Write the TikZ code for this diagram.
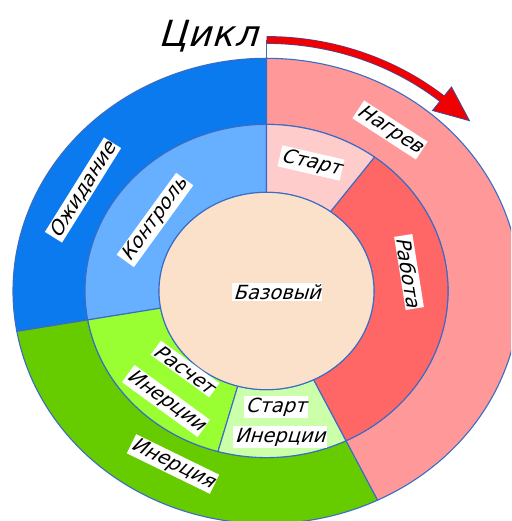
\documentclass[tikz,border=0pt]{standalone}
\usepackage{fontspec}
\newfontfamily\gost[FakeSlant=0.3]{DejaVu Sans}
\newfontfamily\gostbig[FakeSlant=0.3,LetterSpace=2]{DejaVu Sans}
\usetikzlibrary{arrows.meta,calc}
\definecolor{edge}{HTML}{3A6CC6}
\definecolor{arrowedge}{HTML}{3A4FA0}
\definecolor{cblue}{HTML}{0A7AEE}
\definecolor{clblue}{HTML}{66B0FF}
\definecolor{cgreen}{HTML}{66CC00}
\definecolor{clgreen}{HTML}{99FF33}
\definecolor{cpgreen}{HTML}{CCFFAA}
\definecolor{cred}{HTML}{FF6666}
\definecolor{cpink}{HTML}{FF9999}
\definecolor{clpink}{HTML}{FFCCCC}
\definecolor{cpeach}{HTML}{FCE1CA}
\definecolor{carrow}{HTML}{F00000}
\newcommand\ringpart[7]{%
  \filldraw[fill=#1, draw=edge, line width=1.1pt]
    (#2:#4pt and #5pt) arc[start angle=#2, end angle=#3, x radius=#4pt, y radius=#5pt]
    -- (#3:#6pt and #7pt) arc[start angle=#3, end angle=#2, x radius=#6pt, y radius=#7pt]
    -- cycle;}
\begin{document}
\begin{tikzpicture}[x=1pt,y=1pt,
  lbl/.style={fill=white, inner sep=1.5pt, font=\gost\fontsize{19.5}{19.5}\selectfont}]
\useasboundingbox (0,0) rectangle (511,521);
\clip (0,0) rectangle (511,521);
\fill[white] (0,0) rectangle (511,521);
\begin{scope}[shift={(266.5,230)}]
  % outer ring
  \ringpart{cblue}{90}{190}{253.5}{232.7}{181.5}{166.6}
  \ringpart{cgreen}{190}{296}{253.5}{232.7}{181.5}{166.6}
  \ringpart{cpink}{296}{450}{253.5}{232.7}{181.5}{166.6}
  % middle ring
  \ringpart{clblue}{90}{190}{181.5}{166.6}{107.5}{98.7}
  \ringpart{clgreen}{190}{254.5}{181.5}{166.6}{107.5}{98.7}
  \ringpart{cpgreen}{254.5}{296}{181.5}{166.6}{107.5}{98.7}
  \ringpart{cred}{296}{413.5}{181.5}{166.6}{107.5}{98.7}
  \ringpart{clpink}{413.5}{450}{181.5}{166.6}{107.5}{98.7}
  % inner disc
  \filldraw[fill=cpeach, draw=edge, line width=1.1pt] (0,0) ellipse [x radius=107.5pt, y radius=98.7pt];
  % divider above the ring
  \coordinate (ringtop) at (90:253.5pt and 232.7pt);
  \coordinate (arrowstart) at (90:273pt and 251pt);
  \draw[edge, line width=1pt] (ringtop) -- (arrowstart);
  % arrow
  \draw[arrowedge, line width=7.8pt] (arrowstart) arc[start angle=90, end angle=50, x radius=273pt, y radius=251pt];
  \coordinate (hb) at (50:273pt and 251pt);
  \filldraw[fill=carrow, draw=arrowedge, line width=0.8pt]
    ($(hb)+(-9.5,-11.8)$) -- ($(hb)+(9.5,11.8)$) -- ($(hb)+(27.5,-22)$) -- cycle;
  \draw[carrow, line width=6.4pt] ([xshift=0.4pt]arrowstart) arc[start angle=90, end angle=49.2, x radius=273pt, y radius=251pt];
\end{scope}
% labels
\node[font=\gostbig\fontsize{36}{36}\selectfont, inner sep=0pt] (cycle) at (208,485) {Цикл};
\node[lbl, rotate=-33] (heat) at (390,391) {Нагрев};
\node[lbl, rotate=-13] (start) at (311,358) {Старт};
\node[lbl, rotate=-81] (work) at (409,249) {Работа};
\node[lbl] (base) at (277,229) {Базовый};
\node[lbl, rotate=58] (wait) at (83,331) {Ожидание};
\node[lbl, rotate=54] (ctrl) at (155,301) {Контроль};
\node[lbl, rotate=-36] (calc1) at (185,152) {Расчет};
\node[lbl, rotate=-36] (calc2) at (166,120) {Инерции};
\node[lbl] (istart1) at (276,114) {Старт};
\node[lbl] (istart2) at (280,84) {Инерции};
\node[lbl, rotate=-26] (inert) at (173,57) {Инерция};
\end{tikzpicture}
\end{document}
